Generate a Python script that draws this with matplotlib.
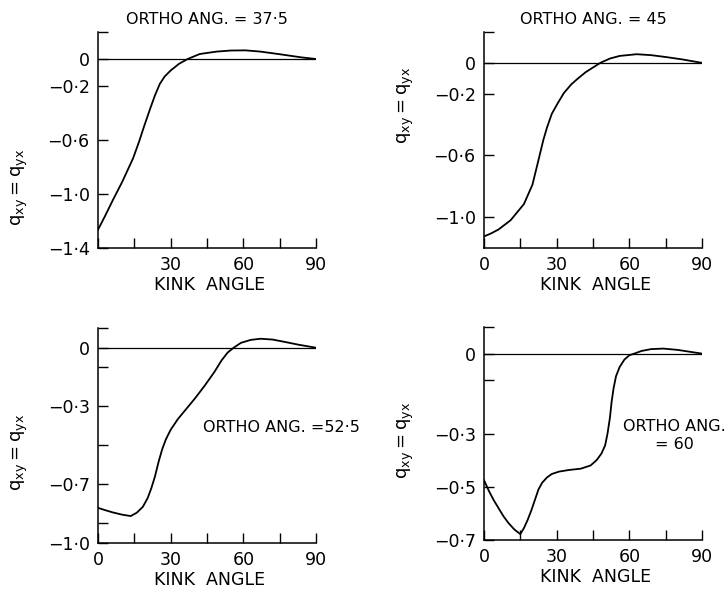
import numpy as np
import matplotlib
matplotlib.use("Agg")
import matplotlib.pyplot as plt

plt.rcParams['font.family'] = ['DejaVu Sans']
plt.rcParams['mathtext.fontset'] = 'dejavusans'
plt.rcParams['mathtext.default'] = 'regular'

# kink angle (deg) vs q_xy = q_yx
kink_375 = [0, 3, 6, 10, 14.5, 17, 19, 21.5, 23.5, 25.5, 27.5, 30, 33.5, 37, 42, 49, 55, 61, 67, 74, 79, 84, 90]
q_375 = [-1.265, -1.16, -1.05, -0.91, -0.735, -0.61, -0.50, -0.37, -0.27, -0.185, -0.13, -0.085, -0.035, 0.0, 0.037, 0.055, 0.063, 0.064, 0.055, 0.038, 0.025, 0.012, 0.0]

kink_45 = [0, 3, 6, 11, 16.5, 20, 22.5, 24.5, 26, 28, 30.5, 33, 36, 38.5, 42, 45, 48, 52, 56, 63, 69, 75, 82, 90]
q_45 = [-1.125, -1.105, -1.08, -1.02, -0.915, -0.79, -0.63, -0.50, -0.42, -0.33, -0.26, -0.195, -0.14, -0.105, -0.06, -0.03, 0.0, 0.028, 0.045, 0.056, 0.05, 0.038, 0.022, 0.0]

kink_525 = [0, 3, 6, 10, 13.5, 16, 18.5, 20.5, 22, 23.5, 25, 26.5, 28, 30, 33, 36, 40, 44, 48, 51, 53.5, 56, 59, 63, 67, 72, 77, 83, 90]
q_525 = [-0.82, -0.832, -0.843, -0.855, -0.862, -0.845, -0.815, -0.77, -0.72, -0.66, -0.585, -0.52, -0.47, -0.42, -0.365, -0.32, -0.26, -0.195, -0.125, -0.065, -0.025, 0.0, 0.025, 0.04, 0.046, 0.042, 0.03, 0.015, 0.0]

kink_60 = [0, 2, 4, 6, 8, 10, 12.5, 15, 16.5, 18, 19.5, 21, 22.5, 24, 26, 28, 31, 35, 40, 44, 46.5, 48.5, 50, 51, 52, 52.7, 53.5, 54.5, 56, 58, 60, 62, 65, 69, 74, 80, 85, 90]
q_60 = [-0.475, -0.515, -0.55, -0.58, -0.61, -0.635, -0.66, -0.678, -0.655, -0.625, -0.59, -0.55, -0.51, -0.485, -0.465, -0.452, -0.443, -0.437, -0.432, -0.42, -0.40, -0.375, -0.345, -0.30, -0.24, -0.18, -0.13, -0.085, -0.05, -0.022, -0.006, 0.0, 0.01, 0.017, 0.019, 0.014, 0.007, 0.0]

xticks = [0, 15, 30, 45, 60, 75, 90]

panels = [
    dict(x=kink_375, y=q_375, pos=[0.1346, 0.5832, 0.2995, 0.363], ylim=(-1.4, 0.2),
         yticks=[0.2, 0, -0.2, -0.6, -1.0, -1.4],
         ylabels=['', '0', '−0·2', '−0·6', '−1·0', '−1·4'],
         xlabels=['', '', '30', '', '60', '', '90'], ylab_y=0.28),
    dict(x=kink_45, y=q_45, pos=[0.6648, 0.5832, 0.2995, 0.363], ylim=(-1.2, 0.2),
         yticks=[0.2, 0, -0.2, -0.6, -1.0],
         ylabels=['', '0', '−0·2', '−0·6', '−1·0'],
         xlabels=['0', '', '30', '', '60', '', '90'], ylab_y=0.66),
    dict(x=kink_525, y=q_525, pos=[0.1346, 0.0874, 0.2995, 0.361], ylim=(-1.0, 0.1),
         yticks=[0.1, 0, -0.1, -0.3, -0.5, -0.7, -0.9, -1.0],
         ylabels=['', '0', '', '−0·3', '', '−0·7', '', '−1·0'],
         xlabels=['0', '', '30', '', '60', '', '90'], ylab_y=0.42),
    dict(x=kink_60, y=q_60, pos=[0.6648, 0.0924, 0.2995, 0.358], ylim=(-0.7, 0.1),
         yticks=[0.1, 0, -0.1, -0.3, -0.5, -0.7],
         ylabels=['', '0', '', '−0·3', '−0·5', '−0·7'],
         xlabels=['0', '', '30', '', '60', '', '90'], ylab_y=0.47),
]

fig = plt.figure(figsize=(7.28, 5.95), dpi=100)
axes = []
for p in panels:
    ax = fig.add_axes(p['pos'])
    ax.plot([0, 90], [0, 0], color='black', lw=0.9)
    ax.plot(p['x'], p['y'], color='black', lw=1.3)
    ax.set_xlim(0, 90)
    ax.set_ylim(*p['ylim'])
    ax.set_xticks(xticks)
    ax.set_xticklabels(p['xlabels'])
    ax.set_yticks(p['yticks'])
    ax.set_yticklabels(p['ylabels'])
    ax.tick_params(direction='in', length=7, width=1, labelsize=12.5, pad=6)
    ax.spines['top'].set_visible(False)
    ax.spines['right'].set_visible(False)
    ax.spines['left'].set_linewidth(1.1)
    ax.spines['bottom'].set_linewidth(1.1)
    ax.set_xlabel('KINK  ANGLE', fontsize=12.5)
    ax.xaxis.set_label_coords(0.51, -0.13)
    ax.set_ylabel(r'$q_{xy} = q_{yx}$', fontsize=13)
    ax.yaxis.set_label_coords(-0.31, p['ylab_y'])
    axes.append(ax)

axes[0].set_title('ORTHO ANG. = 37·5', fontsize=11.5, pad=6)
axes[1].set_title('ORTHO ANG. = 45', fontsize=11.5, pad=6)
fig.text(0.279, 0.282, 'ORTHO ANG. =52·5', fontsize=11.5, ha='left', va='center')
fig.text(0.927, 0.268, 'ORTHO ANG.\n= 60', fontsize=11.5, ha='center', va='center', linespacing=1.3)

fig.savefig('out.png', dpi=100)
